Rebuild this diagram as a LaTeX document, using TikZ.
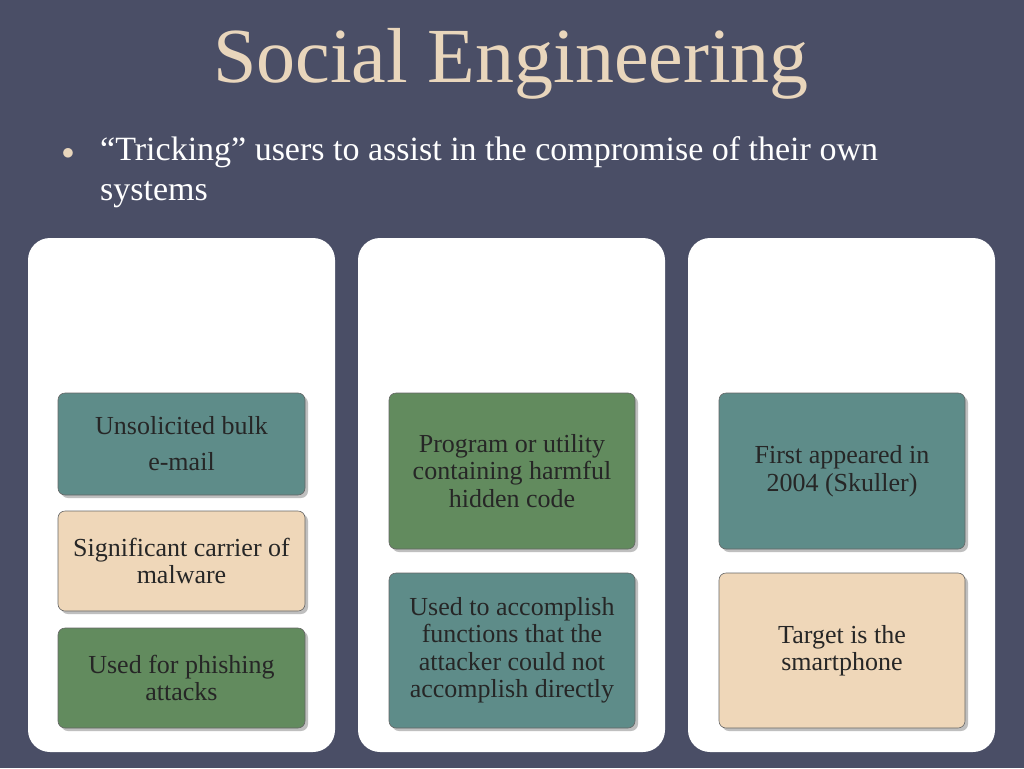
\documentclass[tikz,border=0pt]{standalone}
\usepackage{fontspec}
\setmainfont{Liberation Serif}
\begin{document}
\begin{tikzpicture}[x=1pt,y=-1pt,
 panel/.style={fill=white,rounded corners=22pt},
 box/.style={draw=black!60,line width=0.6pt,rounded corners=7pt,align=center,font=\fontsize{26}{27.5}\selectfont,text=black!85},
 tealb/.style={box,fill=teal1},greenb/.style={box,fill=green1},beigeb/.style={box,fill=beige1}]
\definecolor{bg}{HTML}{4A4E66}\definecolor{ttl}{HTML}{E9D6BC}
\definecolor{teal1}{HTML}{5E8C89}\definecolor{green1}{HTML}{628B5E}\definecolor{beige1}{HTML}{EFD7B9}
\fill[bg] (0,0) rectangle (1024,768);
\useasboundingbox (0,0) rectangle (1024,768);
\node[text=ttl,font=\fontsize{78}{80}\selectfont] (title) at (511,64) {Social Engineering};
\node[text=ttl,font=\fontsize{36}{36}\selectfont] (bul) at (68,154) {$\bullet$};
\node[text=white,anchor=north west,align=left,font=\fontsize{34}{40}\selectfont,inner sep=0] (sub) at (100,136) {“Tricking” users to assist in the compromise of their own\\systems};
\fill[panel] (28,238) rectangle (335,752);
\fill[panel] (358,238) rectangle (665,752);
\fill[panel] (688,238) rectangle (995,752);
\foreach \a/\b/\c/\d in {58/393/305/495,58/511/305/611,58/628/305/728,389/393/635/549,389/573/635/728,719/393/965/549,719/573/965/728}
 \fill[black!25,rounded corners=7pt] (\a+3,\b+3) rectangle (\c+3,\d+3);
\node[tealb,minimum width=247pt,minimum height=102pt] (a1) at (181.5,444) {};
\node[font=\fontsize{26}{27}\selectfont,text=black!85] (a1t) at (181.5,426) {Unsolicited bulk};
\node[font=\fontsize{26}{27}\selectfont,text=black!85] (a1u) at (181.5,462) {e-mail};
\node[beigeb,minimum width=247pt,minimum height=100pt] (a2) at (181.5,561) {Significant carrier of\\malware};
\node[greenb,minimum width=247pt,minimum height=100pt] (a3) at (181.5,678) {Used for phishing\\attacks};
\node[greenb,minimum width=246pt,minimum height=156pt] (b1) at (512,471) {Program or utility\\containing harmful\\hidden code};
\node[tealb,minimum width=246pt,minimum height=155pt] (b2) at (512,650.5) {Used to accomplish\\functions that the\\attacker could not\\accomplish directly};
\node[tealb,minimum width=246pt,minimum height=156pt] (c1) at (842,471) {First appeared in\\2004 (Skuller)};
\node[beigeb,minimum width=246pt,minimum height=155pt] (c2) at (842,650.5) {Target is the\\smartphone};
\end{tikzpicture}
\end{document}
